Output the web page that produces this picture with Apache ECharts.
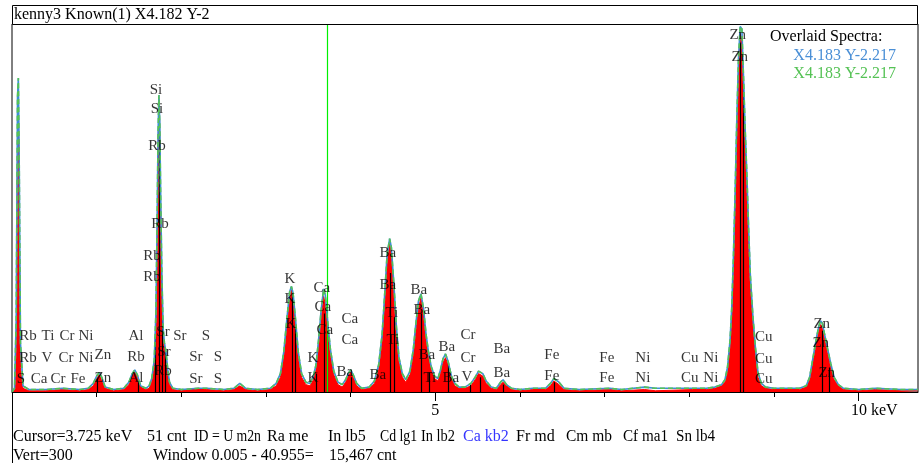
<!DOCTYPE html>
<html>
<head>
<meta charset="utf-8">
<script src="https://cdn.jsdelivr.net/npm/echarts@6/dist/echarts.min.js"></script>
<style>html,body{margin:0;padding:0;background:#fff;}#c{width:922px;height:463px;}</style>
</head>
<body>
<div id="c"></div>
<script>
// Energy (keV) sample points of the spectrum outline
const energyKeV = [0.00,0.03,0.05,0.065,0.075,0.085,0.10,0.13,0.20,0.40,0.60,0.80,0.90,0.96,1.00,1.03,1.06,1.10,1.20,1.32,1.38,1.42,1.45,1.48,1.52,1.58,1.62,1.65,1.68,1.70,1.715,1.725,1.735,1.745,1.755,1.77,1.785,1.80,1.82,1.84,1.86,1.90,2.00,2.20,2.30,2.50,2.62,2.69,2.76,2.90,3.05,3.12,3.17,3.21,3.25,3.28,3.30,3.32,3.35,3.38,3.42,3.47,3.52,3.56,3.59,3.62,3.65,3.68,3.70,3.73,3.76,3.80,3.85,3.90,3.94,3.97,4.00,4.03,4.07,4.13,4.22,4.28,4.33,4.37,4.40,4.43,4.46,4.48,4.51,4.54,4.57,4.61,4.65,4.70,4.74,4.77,4.80,4.83,4.86,4.89,4.92,4.95,4.99,5.03,5.06,5.09,5.12,5.15,5.19,5.23,5.28,5.35,5.42,5.47,5.51,5.53,5.56,5.60,5.66,5.72,5.77,5.80,5.84,5.90,6.00,6.15,6.30,6.36,6.40,6.42,6.46,6.52,6.70,7.06,7.20,7.47,7.60,8.04,8.20,8.30,8.38,8.42,8.45,8.48,8.50,8.52,8.54,8.56,8.58,8.60,8.62,8.64,8.66,8.68,8.70,8.72,8.75,8.78,8.81,8.85,8.90,9.00,9.30,9.38,9.42,9.46,9.50,9.53,9.55,9.57,9.60,9.63,9.67,9.71,9.76,9.82,10.00,10.20,10.50,10.70];
// Known spectrum (red fill), counts
const knownCounts = [0,2,30,200,246,150,20,3,1,1,2,1,2,5,11,14,10,3,1,2,6,13,16,12,4,2,3,8,20,55,130,195,238,205,150,85,45,35,28,15,6,2,1,3,2,1,2,5,2,1,2,5,12,28,55,75,83,76,52,28,12,6,5,10,18,35,58,78,72,50,30,14,6,4,8,13,16,12,5,2,3,7,18,40,70,105,121,112,80,46,24,12,8,14,30,50,68,77,62,42,28,18,11,9,15,24,28,22,11,5,3,3,5,10,15,16,13,7,3,2,6,8,5,2,1,2,2,5,9,10,6,2,1,2,1,2,1,2,2,3,5,8,15,35,59,100,150,210,260,292,288,240,200,165,120,85,55,30,12,5,3,2,2,4,10,25,40,50,55,52,42,32,20,10,5,2,1,2,1,1];
// Overlaid spectra (blue / green outlines), counts
const overlayCounts = [0,3,60,240,256,190,40,5,2,2,3,2,3,7,13,16,12,4,2,3,8,15,18,14,5,3,5,11,26,65,145,210,242,220,165,95,52,40,32,18,8,3,2,3,3,2,3,7,3,2,3,7,15,33,62,82,86,80,58,33,15,8,7,13,22,42,66,84,79,56,35,17,8,6,10,15,18,14,7,3,4,9,22,46,78,112,125,118,88,53,28,15,10,17,35,56,74,80,68,47,32,21,13,11,18,27,31,25,13,7,4,4,7,12,17,18,15,9,4,3,8,10,6,3,2,3,3,7,11,12,8,3,2,3,2,4,3,3,3,4,6,10,20,42,68,110,162,222,272,298,296,255,212,175,132,95,62,36,16,7,4,3,3,5,12,28,44,54,58,56,46,36,23,12,6,3,2,3,2,2];
// KLM peak markers: energy (keV) and height (counts)
const markerEnergies = [1.012,1.487,1.694,1.74,1.77,1.806,3.314,3.34,3.59,3.69,3.72,4.01,4.466,4.51,4.828,4.93,5.156,5.41,5.53,5.80,6.40,8.60,8.638,9.57,9.65];
const markerHeights  = [11,10,45,222,60,35,83,55,15,64,45,12,97,61,64,16,24,6,12,6,8,285,252,50,20];
// Element labels: name, energy (keV), counts
const labelNames = ['Rb','Ti','Cr','Ni','Rb','V','Cr','Ni','Zn','S','Ca','Cr','Fe','Zn','Al','Rb','Al','Si','Si','Rb','Rb','Rb','Rb','Sr','Sr','Rb','Sr','S','Sr','S','Sr','S','K','K','K','K','K','Ca','Ca','Ca','Ca','Ca','Ba','Ba','Ba','Ba','Ti','Ti','Ba','Ba','Ba','Ti','Ba','Ba','Cr','Cr','V','Ba','Ba','Fe','Fe','Fe','Fe','Ni','Ni','Cu','Ni','Cu','Ni','Zn','Zn','Cu','Cu','Cu','Zn','Zn','Zn'];
const labelE = [0.189,0.425,0.649,0.874,0.189,0.413,0.638,0.874,1.074,0.106,0.319,0.543,0.779,1.074,1.464,1.464,1.464,1.700,1.712,1.712,1.747,1.653,1.653,1.783,1.795,1.783,1.983,2.290,2.172,2.432,2.172,2.432,3.282,3.282,3.294,3.554,3.554,3.660,3.672,3.695,3.991,3.991,3.932,4.321,4.439,4.439,4.486,4.498,4.805,4.841,4.900,4.935,5.136,5.183,5.384,5.384,5.372,5.785,5.785,6.375,6.375,7.025,7.025,7.450,7.450,8.005,8.253,8.005,8.253,8.571,8.595,8.878,8.878,8.878,9.563,9.551,9.622];
const labelC = [45.6,45.6,45.6,45.6,27.7,27.7,27.7,27.7,30.2,10.6,10.6,10.6,10.6,11.4,45.6,28.5,11.4,246,230.6,200.5,136.9,110.8,93.7,48.9,32.6,17.1,45.6,45.6,28.5,28.5,10.6,10.6,92.1,75.8,55.4,27.7,11.4,84.8,69.3,50.5,59.5,42.4,16.3,13.9,113.3,87.2,64.4,42.4,83.1,66.8,30.2,11.4,36.7,11.4,46.5,27.7,12.2,35.0,15.5,30.2,13.0,27.7,11.4,27.7,11.4,27.7,27.7,11.4,11.4,291,273,44.8,26.9,10.6,55.4,39.9,15.5];
const cursorKeV = 3.725;
const majorTicks = [5, 10];
const minorTicks = [1,2,3,4,5,6,7,8,9,10];
// Status-bar texts
const statusLine1 = ['Cursor=3.725 keV','51 cnt','ID = U m2n','Ra me','In lb5','Cd lg1','In lb2','Ca kb2','Fr md','Cm mb','Cf ma1','Sn lb4'];
const statusLine2 = ['Vert=300','Window 0.005 - 40.955=','15,467 cnt'];

const spectrum = energyKeV.map((e,i)=>[e, knownCounts[i]]);
const overlay = energyKeV.map((e,i)=>[e, overlayCounts[i]]);
const labels = labelNames.map((n,i)=>[labelE[i], labelC[i], n]);
const markers = markerEnergies.map((e,i)=>[{coord:[e,0]},{coord:[e,markerHeights[i]]}]);

const serif = '"Liberation Serif", "DejaVu Serif", serif';
const measureCtx = document.createElement('canvas').getContext('2d');
measureCtx.font = '16px ' + serif;

function txt(x, y, s, color, align) {
  return {type:'text', x:x, y:y, z:100, style:{text:s, fill:color||'#000', font:'16px ' + serif, textAlign:align||'left', textVerticalAlign:'middle'}};
}
// text placed at its reference start, only narrowed a little when it would overrun the next item
function fitTxt(x0, x1, y, s, color) {
  const w = measureCtx.measureText(s).width || 1;
  const t = txt(x0, y, s, color);
  t.scaleX = Math.max(0.86, Math.min(1, (x1 - x0) / w));
  return t;
}
const spans1 = [[13,135],[147,188],[194,258],[267,317],[328,373],[380,415],[421,455],[463,510],[516,555],[566,612],[623,668],[676,715]];
const spans2 = [[13,74],[153,317],[329,398]];
const statusGraphics = statusLine1.map((s,i)=>fitTxt(spans1[i][0], spans1[i][1], 437, s, s==='Ca kb2' ? '#3535ff' : '#000'))
  .concat(statusLine2.map((s,i)=>fitTxt(spans2[i][0], spans2[i][1], 456, s)));

const chart = echarts.init(document.getElementById('c'), null, {renderer:'canvas'});
chart.setOption({
  backgroundColor:'#fff',
  animation:false,
  grid:{left:12, right:4, top:24, bottom:71, show:true, borderColor:'#000', borderWidth:1, backgroundColor:'#fff'},
  xAxis:[
    {type:'value', min:0, max:10.7, position:'bottom',
     axisLine:{show:true, lineStyle:{color:'#000', width:1}},
     axisTick:{show:true, length:5, lineStyle:{color:'#000'}, customValues:minorTicks},
     axisLabel:{show:false}, splitLine:{show:false}},
    {type:'value', min:0, max:10.7, position:'bottom', offset:0,
     axisLine:{show:false},
     axisTick:{show:true, length:9, lineStyle:{color:'#000'}, customValues:majorTicks},
     axisLabel:{show:true, customValues:majorTicks, margin:11, color:'#000', fontFamily:serif, fontSize:16,
       formatter:function(v){ return v===10 ? '{b|10 keV}' : '{a|' + v + '}'; },
       rich:{a:{fontFamily:serif, fontSize:16, color:'#000'}, b:{fontFamily:serif, fontSize:16, color:'#000', padding:[0,0,0,31]}}},
     splitLine:{show:false}}
  ],
  yAxis:{type:'value', min:0, max:300, show:false, splitLine:{show:false}},
  series:[
    {type:'line', name:'Known', data:spectrum, symbol:'none', z:2,
     lineStyle:{color:'#ff0000', width:1}, areaStyle:{color:'#ff0000', opacity:1},
     markLine:{silent:true, symbol:['none','none'], label:{show:false}, z:3,
       lineStyle:{color:'#000', width:1.2, type:'solid'},
       data: markers.concat([[{coord:[cursorKeV,0], lineStyle:{color:'#00f000', width:1.2}},{coord:[cursorKeV,300], lineStyle:{color:'#00f000', width:1.2}}]])}},
    {type:'line', name:'Overlay blue', data:overlay, symbol:'none', z:4,
     lineStyle:{color:'#3f8ed6', width:1.6}},
    {type:'line', name:'Overlay green', data:overlay, symbol:'none', z:5,
     lineStyle:{color:'#55c255', width:1.6, type:[5,3]}},
    {type:'scatter', name:'Labels', data:labels, symbolSize:1, z:10,
     itemStyle:{color:'rgba(0,0,0,0)'},
     label:{show:true, position:'inside', color:'#000', fontFamily:serif, fontSize:15,
       formatter:function(p){ return p.data[2]; }}}
  ],
  graphic:[
    {type:'rect', shape:{x:12.5, y:5.5, width:905, height:19}, style:{fill:'#fff', stroke:'#000', lineWidth:1}, z:50},
    {type:'line', shape:{x1:12.5, y1:392, x2:12.5, y2:463}, style:{stroke:'#000', lineWidth:1}, z:50},
    txt(14, 15, 'kenny3 Known(1) X4.182 Y-2'),
    txt(770, 37, 'Overlaid Spectra:'),
    txt(896, 56, 'X4.183 Y-2.217', '#4a8fd6', 'right'),
    txt(896, 74, 'X4.183 Y-2.217', '#55c255', 'right')
  ].concat(statusGraphics)
});
</script>
</body>
</html>
